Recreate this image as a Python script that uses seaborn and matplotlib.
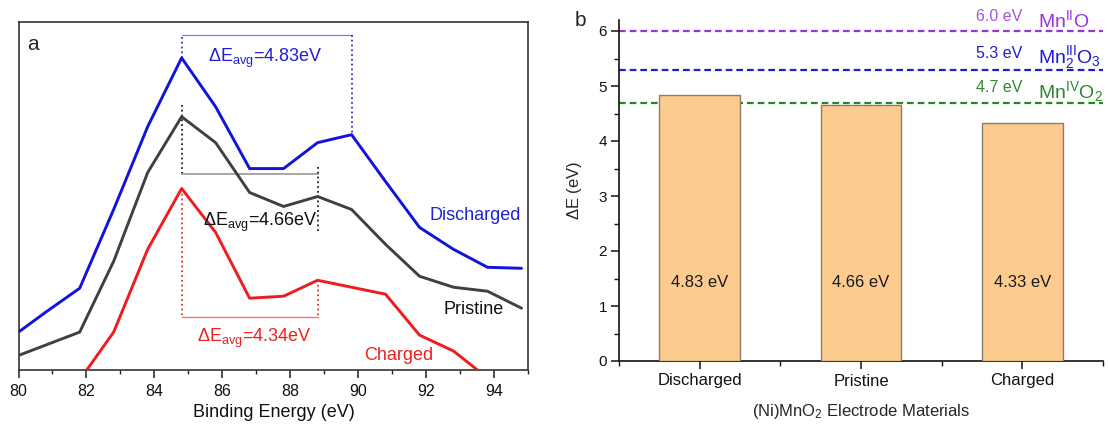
import numpy as np
import pandas as pd
import matplotlib
matplotlib.use("Agg")
import matplotlib.pyplot as plt
import seaborn as sns
from matplotlib.ticker import MultipleLocator, FixedLocator, NullLocator

# ---------------- data ----------------
energy = [79.8, 80.8, 81.8, 82.8, 83.8, 84.8, 85.8, 86.8, 87.8, 88.8,
          89.8, 90.8, 91.8, 92.8, 93.8, 94.8]
discharged = [33, 58, 82, 161, 244, 313, 264, 202, 202, 228,
              236, 189, 143, 121, 103, 102]
pristine = [12, 25, 38, 109, 198, 254, 228, 178, 164, 174,
            161, 126, 94, 83, 79, 62]
charged_energy = [81.8, 82.8, 83.8, 84.8, 85.8, 86.8, 87.8, 88.8,
                  89.8, 90.8, 91.8, 92.8, 93.8]
charged = [-10, 38, 121, 182, 138, 72, 74, 90, 83, 76, 35, 19, -8]

series_names = ["Discharged", "Pristine", "Charged"]
delta_avg_labels = ["4.83", "4.66", "4.34"]

materials = ["Discharged", "Pristine", "Charged"]
delta_e = [4.83, 4.66, 4.33]
delta_e_labels = ["4.83 eV", "4.66 eV", "4.33 eV"]

ref_values = [6.0, 5.3, 4.7]
ref_value_labels = ["6.0 eV", "5.3 eV", "4.7 eV"]
ref_names = [r"Mn$^{\mathrm{II}}$O", r"Mn$_2^{\mathrm{III}}$O$_3$", r"Mn$^{\mathrm{IV}}$O$_2$"]

# ---------------- style ----------------
sns.set_style("white")
plt.rcParams["font.family"] = ["Liberation Sans", "DejaVu Sans"]
plt.rcParams["mathtext.fontset"] = "custom"
plt.rcParams["mathtext.rm"] = "Liberation Sans"
plt.rcParams["mathtext.it"] = "Liberation Sans:italic"
plt.rcParams["mathtext.bf"] = "Liberation Sans:bold"

W, H = 1108, 425
fig = plt.figure(figsize=(W / 100, H / 100), dpi=100)

# panel a axes (pixel box)
aL, aR, aT, aB = 18.5, 528.3, 22, 370
axA = fig.add_axes([aL / W, (H - aB) / H, (aR - aL) / W, (aB - aT) / H])
# panel b axes
bL, bR, bT, bB = 619, 1103, 20, 361
axB = fig.add_axes([bL / W, (H - bB) / H, (bR - bL) / W, (bB - bT) / H])

# ---------------- panel a ----------------
c_blue, c_gray, c_red = "#1212DD", "#404040", "#EE1C1C"
df_d = pd.DataFrame({"E": energy, "I": discharged})
df_p = pd.DataFrame({"E": energy, "I": pristine})
df_c = pd.DataFrame({"E": charged_energy, "I": charged})
sns.lineplot(data=df_d, x="E", y="I", color=c_blue, lw=2.1, ax=axA, zorder=3)
sns.lineplot(data=df_p, x="E", y="I", color=c_gray, lw=2.1, ax=axA, zorder=3)
sns.lineplot(data=df_c, x="E", y="I", color=c_red, lw=2.1, ax=axA, zorder=3)

axA.set_xlim(80, 95)
axA.set_ylim(0, 349)
axA.xaxis.set_major_locator(MultipleLocator(2))
axA.xaxis.set_minor_locator(MultipleLocator(1))
axA.yaxis.set_major_locator(NullLocator())
axA.tick_params(axis="x", which="major", direction="out", length=6, width=1.1,
                labelsize=11.5, pad=4, bottom=True, colors="#222222")
axA.tick_params(axis="x", which="minor", direction="out", length=3, width=1.0,
                bottom=True, colors="#222222")
axA.tick_params(axis="x", labelcolor="#111111")
for s in axA.spines.values():
    s.set_color("#333333")
    s.set_linewidth(1.2)
axA.set_xlabel("Binding Energy (eV)", fontsize=13, color="#111111")
axA.xaxis.set_label_coords(0.5, -0.097)
axA.set_ylabel("")

# brackets / annotations
pk = energy[int(np.argmax(discharged))]
# discharged bracket
sat_d = 89.8
axA.plot([pk, pk], [max(discharged), 336], ls=":", color="#3030D0", lw=1.3)
axA.plot([pk, sat_d], [336, 336], color="#7B7BE8", lw=0.9)
axA.plot([sat_d, sat_d], [336, discharged[energy.index(sat_d)]], ls=":", color="#3030D0", lw=1.3)
axA.text(87.25, 309, r"$\Delta$E$_{\mathrm{avg}}$=" + delta_avg_labels[0] + "eV",
         color="#2020D0", fontsize=13, ha="center", va="baseline")
# pristine bracket
sat_p = 88.8
axA.plot([pk, pk], [266, 197], ls=":", color="#202020", lw=1.3)
axA.plot([pk, sat_p], [197, 197], color="#909090", lw=1.1)
axA.plot([sat_p, sat_p], [204, 138], ls=":", color="#202020", lw=1.3)
axA.text(87.12, 144, r"$\Delta$E$_{\mathrm{avg}}$=" + delta_avg_labels[1] + "eV",
         color="#111111", fontsize=13, ha="center", va="baseline")
# charged bracket
sat_c = 88.8
axA.plot([pk, pk], [max(charged), 53], ls=":", color="#EE3030", lw=1.3)
axA.plot([pk, sat_c], [53, 53], color="#F07878", lw=1.0)
axA.plot([sat_c, sat_c], [charged[charged_energy.index(sat_c)], 53], ls=":", color="#EE3030", lw=1.3)
axA.text(86.95, 28, r"$\Delta$E$_{\mathrm{avg}}$=" + delta_avg_labels[2] + "eV",
         color="#EE2020", fontsize=13, ha="center", va="baseline")

# series labels
axA.text(94.78, 150, series_names[0], color="#2222D0", fontsize=13, ha="right", va="baseline")
axA.text(94.28, 56, series_names[1], color="#111111", fontsize=13, ha="right", va="baseline")
axA.text(92.19, 10, series_names[2], color="#EE2020", fontsize=13, ha="right", va="baseline")
axA.text(0.0165, 0.934, "a", transform=axA.transAxes, fontsize=15, ha="left", va="center")

# ---------------- panel b ----------------
df_b = pd.DataFrame({"material": materials, "dE": delta_e})
sns.barplot(data=df_b, x="material", y="dE", order=materials, color="#FDCB8E",
            saturation=1, width=0.5, edgecolor="#8B7B6B", linewidth=1.0,
            ax=axB, zorder=3)

ref_line_colors = ["#9932DD", "#1A1AE0", "#1E8C1E"]
ref_text_colors = ["#A855E0", "#2020C8", "#2E8B2E"]
ref_name_colors = ["#9933DD", "#1A1AD8", "#2A8A2A"]
for v, lc in zip(ref_values, ref_line_colors):
    axB.axhline(v, color=lc, lw=1.6, ls=(0, (3.0, 1.8)), zorder=1)
for v, vl, tc, dy in zip(ref_values, ref_value_labels, ref_text_colors, [0.12, 0.15, 0.14]):
    axB.text(1.855, v + dy, vl, color=tc, fontsize=11.5, ha="center", va="bottom")
for v, nm, nc, dy in zip(ref_values, ref_names, ref_name_colors, [0.08, 0.12, 0.085]):
    axB.text(2.10, v + dy, nm, color=nc, fontsize=14, ha="left", va="baseline")

for i, lab in enumerate(delta_e_labels):
    axB.text(i, 1.43, lab, ha="center", va="center", fontsize=12, color="#1a1a1a", zorder=4)

axB.set_xlim(-0.5, 2.5)
axB.set_ylim(0, 6.2)
axB.yaxis.set_major_locator(MultipleLocator(1))
axB.yaxis.set_minor_locator(MultipleLocator(0.5))
axB.xaxis.set_minor_locator(FixedLocator([-0.5, 0.5, 1.5, 2.5]))
axB.tick_params(axis="both", which="major", direction="out", length=5.5, width=1.1,
                colors="#111111")
axB.tick_params(axis="both", which="minor", direction="out", length=3.5, width=1.0,
                colors="#111111")
axB.tick_params(axis="x", which="both", bottom=True, labelsize=12, pad=3.5)
axB.tick_params(axis="y", which="both", left=True, labelsize=11, pad=3)
sns.despine(ax=axB)
for s in ["left", "bottom"]:
    axB.spines[s].set_color("#111111")
    axB.spines[s].set_linewidth(1.2)
axB.set_ylabel(r"$\Delta$E (eV)", fontsize=12)
axB.yaxis.set_label_coords(-0.072, 0.5)
axB.set_xlabel(r"(Ni)MnO$_2$ Electrode Materials", fontsize=12)
axB.xaxis.set_label_coords(0.5, -0.12)
axB.text(-0.08, 1.0, "b", transform=axB.transAxes, fontsize=15, ha="center", va="center")

fig.savefig("out.png", dpi=100)
